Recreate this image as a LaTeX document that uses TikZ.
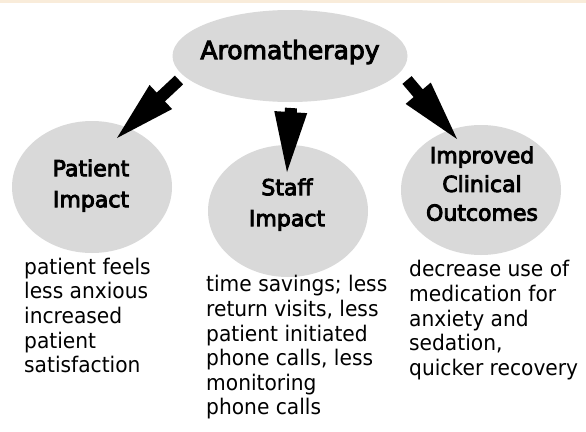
\documentclass[tikz,border=0pt]{standalone}
\usepackage{fontspec}
\usetikzlibrary{calc,shapes.geometric}

\newfontfamily\headfont{DejaVu Sans}[FakeBold=4]
\newfontfamily\bodyfont{DejaVu Sans}[FakeStretch=0.94]

\definecolor{bubblegray}{RGB}{217,217,217}
\definecolor{topband}{RGB}{249,236,218}

% block arrow from tail #2 to tip #3; #1 names the base of the head
\newcommand\blockarrow[3]{%
  \coordinate (#1-base) at ($(#3)!60pt!(#2)$);
  \fill[arrowfill]
    ($(#2)!6pt!90:(#3)$) --
    ($(#1-base)!6pt!90:(#3)$) --
    ($(#1-base)!16.5pt!90:(#3)$) --
    (#3) --
    ($(#1-base)!16.5pt!-90:(#3)$) --
    ($(#1-base)!6pt!-90:(#3)$) --
    ($(#2)!6pt!-90:(#3)$) -- cycle;
}

\tikzset{
  bubble/.style={ellipse, fill=bubblegray, draw=none, inner sep=0pt},
  headlbl/.style={font=\headfont\fontsize{22}{31}\selectfont, align=center,
    inner sep=0pt, anchor=north},
  bodytxt/.style={font=\bodyfont\fontsize{21.5}{24.6}\selectfont, align=left,
    inner sep=0pt, anchor=north west},
  arrowfill/.style={fill=black}
}

\begin{document}
\begin{tikzpicture}[x=1pt,y=-1pt]
  \useasboundingbox (0,0) rectangle (586,431);
  \fill[white] (0,0) rectangle (586,431);
  \fill[topband] (0,0) rectangle (586,3);

  % central topic
  \node[bubble, minimum width=235pt, minimum height=92pt] (aroma) at (290,56) {};
  \node[font=\headfont\fontsize{25}{30}\selectfont, anchor=base, inner sep=0pt]
    (aromalbl) at (290,59) {Aromatherapy};

  % three outcome bubbles
  \node[bubble, minimum width=160pt, minimum height=132pt] (patient) at (92,187) {};
  \node[headlbl] (patientlbl) at (91,159.3) {Patient\\Impact};

  \node[bubble, minimum width=160pt, minimum height=132pt] (staff) at (288,211) {};
  \node[headlbl] (stafflbl) at (287,178.3) {Staff\\Impact};

  \node[bubble, minimum width=160pt, minimum height=130pt] (clinical) at (481,190) {};
  \node[headlbl, font=\headfont\fontsize{22}{28.7}\selectfont] (clinicallbl)
    at (482,146.3) {Improved\\Clinical\\Outcomes};

  % arrows from the central topic
  \coordinate (a1t) at (179,80);  \coordinate (a1h) at (117,138);
  \coordinate (a2t) at (291,108); \coordinate (a2h) at (287,172);
  \coordinate (a3t) at (407,80);  \coordinate (a3h) at (457,139);
  \blockarrow{a1}{a1t}{a1h}
  \blockarrow{a2}{a2t}{a2h}
  \blockarrow{a3}{a3t}{a3h}

  % descriptions
  \node[bodytxt] (patienttxt) at (24,257.7)
    {patient feels\\less anxious\\increased\\patient\\satisfaction};
  \node[bodytxt] (stafftxt) at (206,275.4)
    {time savings; less\\return visits, less\\patient initiated\\phone calls, less\\monitoring\\phone calls};
  \node[bodytxt] (clinicaltxt) at (409,260.4)
    {decrease use of\\medication for\\anxiety and\\sedation,\\quicker recovery};
\end{tikzpicture}
\end{document}
